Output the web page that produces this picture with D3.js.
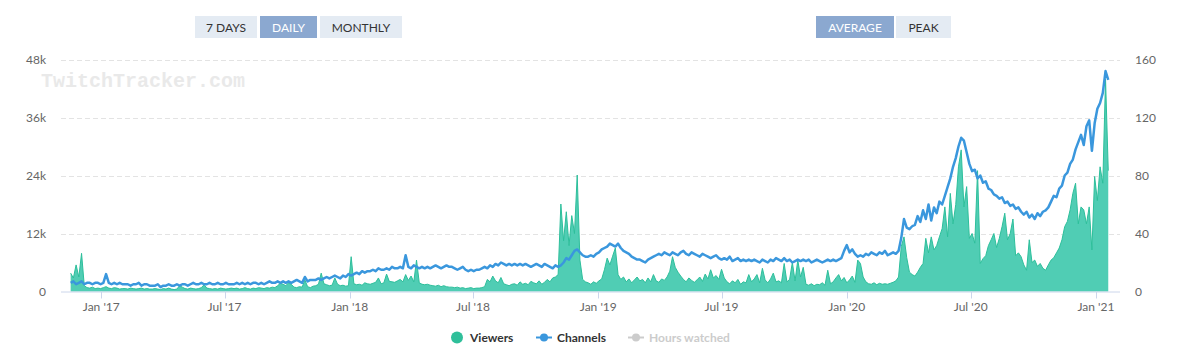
<!DOCTYPE html>
<html><head><meta charset="utf-8">
<script src="https://cdn.jsdelivr.net/npm/d3@7/dist/d3.min.js"></script>
<style>
body{margin:0;background:#fff;font-family:Lato,"Open Sans",sans-serif;}
svg{display:block;}
</style></head><body>
<svg id="chart" width="1179" height="356"></svg>
<script>
// sampled every 4 days from start date
const startDate = "2016-11-17";
const stepDays = 4;
// average viewers (thousands)
const viewers = [
3.8,2.8,5.5,3.0,7.9,1.2,0.8,0.7,0.9,0.6,
0.7,0.6,0.8,1.0,0.7,0.6,0.8,0.7,0.5,0.6,
0.6,0.5,0.7,0.6,0.5,0.6,0.7,0.5,0.6,0.5,
0.5,0.6,0.5,0.4,0.6,0.5,0.7,0.5,0.4,0.5,
1.2,0.9,0.6,0.5,0.7,0.6,0.5,0.6,0.8,1.4,
0.7,0.6,0.5,0.6,0.5,0.7,0.6,0.5,0.6,0.7,
0.6,0.7,0.5,0.6,0.8,0.6,0.5,0.7,0.6,0.8,
0.7,0.6,0.8,0.7,0.9,0.8,1.2,1.7,1.5,1.2,
1.8,1.5,0.9,0.8,1.0,0.9,2.4,1.0,0.8,1.1,
1.2,1.5,3.8,1.6,1.4,1.2,1.3,2.8,1.5,1.2,
1.3,1.1,1.2,7.2,1.6,1.4,1.5,1.3,1.8,1.6,
1.5,1.7,1.9,2.8,1.6,1.8,3.6,2.1,2.0,1.9,
2.2,2.5,2.0,3.5,2.3,3.2,2.0,6.5,1.8,1.5,
1.4,1.5,1.3,1.2,1.1,1.3,1.0,1.2,1.0,0.9,
0.9,0.8,0.9,0.7,0.8,0.6,0.7,0.8,0.6,0.7,
0.7,0.8,1.0,2.5,2.0,3.2,2.2,1.8,2.9,1.6,
1.4,1.2,1.5,1.6,1.3,2.0,1.5,1.7,1.4,2.1,
1.8,1.6,2.2,1.5,1.9,2.5,2.0,2.8,3.0,3.5,
18.1,10.5,16.5,9.5,15.7,12,24.1,6.5,2.5,2.0,
1.8,1.5,2.0,1.7,2.2,2.6,4.5,6.9,5.5,7.3,
9.0,3.5,2.5,3.0,2.0,2.6,1.8,2.4,3.0,2.2,
2.5,1.8,2.8,2.0,3.5,2.2,1.9,2.6,2.3,3.0,
4.2,7.2,5.0,4.0,3.2,2.5,2.0,2.8,2.3,1.9,
2.4,3.0,2.1,3.6,2.6,4.5,2.8,3.3,2.5,4.6,
2.8,2.0,1.6,2.2,1.8,2.5,1.5,2.0,1.8,3.5,
2.0,2.6,3.5,1.8,4.8,2.4,1.8,2.6,3.8,2.0,
2.2,1.8,5.8,2.0,2.5,6.0,2.2,6.5,3.0,5.0,
1.5,1.3,1.6,1.2,1.5,1.4,1.8,1.3,4.4,1.6,
2.0,2.8,3.5,2.2,2.9,1.8,2.4,3.2,1.9,6.5,
5.8,3.0,2.0,1.6,1.5,1.8,1.4,1.7,1.5,1.6,
1.5,1.7,1.9,2.2,3.0,9.3,11.3,7.0,4.0,3.5,
3.2,4.0,5.0,5.8,11.0,8.0,11.3,8.6,9.5,11.3,
13,17.5,11.3,20.3,14,18,25.8,29.3,17.5,21.7,
11,12,10,25,5.8,6.8,7.4,9.5,10.7,12,
9.1,11,13.4,16.2,10.7,12,15,7.4,8,7.2,
5.5,4.4,10.7,6.0,6.5,5.2,5.8,4.8,4.4,5.5,
6.5,7.0,8.0,9.0,10.7,13.4,14.5,16.9,20.3,22.4,
14,17.5,16.9,14,17.5,8.6,23.8,18.8,25.8,22.4,
44,25
];
// channels
const channels = [
6,7,5,6,7,5,6,6,5,6,
6,5,6,12,6,5,6,5,6,5,
5,5,4,5,5,6,4,5,5,4,
4,4,5,3,4,4,5,4,4,5,
4,5,5,4,5,6,5,5,6,5,
5,6,5,5,6,5,5,6,5,5,
5,6,5,6,5,6,5,6,6,5,
6,5,6,7,6,6,7,6,7,6,
7,6,7,8,7,6,10,7,8,8,
8,9,8,9,10,9,10,11,10,9,
11,10,12,11,12,13,12,14,13,14,
14,15,14,16,15,15,16,15,17,16,
16,17,16,25,17,16,18,17,16,17,
16,17,16,17,18,17,16,17,18,17,
17,16,15,16,17,15,14,15,14,15,
15,16,17,16,18,17,19,18,20,19,
18,19,18,19,18,19,18,19,18,17,
18,19,18,17,19,18,17,16,18,17,
18,20,23,22,25,28,29,27,25,24,
24,25,24,26,27,29,30,31,33,32,
31,33,30,28,27,26,24,23,22,22,
21,20,22,23,24,25,26,25,27,26,
25,27,26,25,27,28,26,25,27,26,
25,24,26,25,24,23,24,25,23,22,
23,22,24,21,22,23,21,22,21,22,
21,22,21,20,22,21,20,22,21,23,
22,21,23,21,22,20,21,22,21,22,
21,22,20,21,22,21,20,21,22,21,
22,21,22,23,28,32,27,29,26,24,
25,24,26,25,27,26,25,27,26,28,
25,26,27,26,28,37,50,44,43,45,
46,52,48,56,50,60,49,58,54,62,
60,66,72,78,86,92,100,106,104,96,
88,83,84,78,80,75,76,71,70,67,
66,64,65,61,62,59,60,57,58,55,
53,55,51,53,50,54,52,55,56,58,
62,66,65,71,73,80,82,88,91,98,
103,108,101,114,118,97,116,126,130,137,
152,146
];
const leftTicks = [0,12,24,36,48];
const leftTickLabels = ["0","12k","24k","36k","48k"];
const rightTicks = [0,40,80,120,160];
const rightTickLabels = ["0","40","80","120","160"];
const xTickDates = ["2017-01-01","2017-07-01","2018-01-01","2018-07-01","2019-01-01","2019-07-01","2020-01-01","2020-07-01","2021-01-01"];
const xTickLabels = ["Jan '17","Jul '17","Jan '18","Jul '18","Jan '19","Jul '19","Jan '20","Jul '20","Jan '21"];
const rangeButtons = ["7 DAYS","DAILY","MONTHLY"];
const modeButtons = ["AVERAGE","PEAK"];
const legendItems = ["Viewers","Channels","Hours watched"];

const parse = d3.utcParse("%Y-%m-%d");
const t0 = parse(startDate);
const dates = viewers.map((_, i) => d3.utcDay.offset(t0, i * stepDays));
const data = dates.map((d, i) => ({date: d, v: viewers[i], c: channels[i]}));

const svg = d3.select("#chart");
const plotL = 61, plotR = 1120, plotT = 59.5, plotB = 291.5;

const x = d3.scaleUtc().domain([parse("2017-01-01"), parse("2021-01-01")]).range([101.3, 1096]);
const yL = d3.scaleLinear().domain([0, 48]).range([plotB, plotT]);
const yR = d3.scaleLinear().domain([0, 160]).range([plotB, plotT]);

// buttons
function drawButtons(labels, xs, ws, active) {
  labels.forEach((lab, i) => {
    const g = svg.append("g");
    g.append("rect").attr("x", xs[i]).attr("y", 16).attr("width", ws[i]).attr("height", 22)
      .attr("fill", i === active ? "#8ba8d0" : "#e4ebf3");
    g.append("text").attr("x", xs[i] + ws[i] / 2).attr("y", 31.5).attr("text-anchor", "middle")
      .attr("font-size", 12).attr("fill", i === active ? "#ffffff" : "#333333").text(lab);
  });
}
drawButtons(rangeButtons, [195, 260, 320], [62, 57, 82], 1);
drawButtons(modeButtons, [816, 896], [78, 55], 0);

// grid
svg.append("g").selectAll("line").data(leftTicks.filter(d => d > 0)).join("line")
  .attr("x1", plotL).attr("x2", plotR)
  .attr("y1", d => Math.round(yL(d)) + 0.5).attr("y2", d => Math.round(yL(d)) + 0.5)
  .attr("stroke", "#e3e3e3").attr("stroke-dasharray", "5,3");

// watermark
svg.append("text").attr("x", 41).attr("y", 87).attr("font-family", "'Liberation Mono','DejaVu Sans Mono',monospace")
  .attr("font-weight", "bold").attr("font-size", 20).attr("fill", "#e9e9e9").text("TwitchTracker.com");

// left axis labels
svg.append("g").selectAll("text").data(leftTicks).join("text")
  .attr("x", 46).attr("y", d => yL(d) + 4).attr("text-anchor", "end")
  .attr("font-size", 12).attr("fill", "#666666").text((d, i) => leftTickLabels[i]);
// right axis labels
svg.append("g").selectAll("text").data(rightTicks).join("text")
  .attr("x", 1135).attr("y", d => yR(d) + 4).attr("text-anchor", "start")
  .attr("font-size", 12).attr("fill", "#666666").text((d, i) => rightTickLabels[i]);

// area
const area = d3.area().x(d => x(d.date)).y0(yL(0)).y1(d => yL(d.v));
svg.append("path").datum(data).attr("d", area).attr("fill", "#50cdb4");
const vline = d3.line().x(d => x(d.date)).y(d => yL(d.v));
svg.append("path").datum(data).attr("d", vline).attr("fill", "none").attr("stroke", "#2dbf9b").attr("stroke-width", 1);

// x axis
svg.append("line").attr("x1", plotL).attr("x2", plotR).attr("y1", plotB + 0.5).attr("y2", plotB + 0.5).attr("stroke", "#ccd6eb");
const xt = xTickDates.map(parse);
svg.append("g").selectAll("line").data(xt).join("line")
  .attr("x1", d => Math.round(x(d)) + 0.5).attr("x2", d => Math.round(x(d)) + 0.5)
  .attr("y1", plotB).attr("y2", plotB + 7).attr("stroke", "#ccd6eb");
svg.append("g").selectAll("text").data(xt).join("text")
  .attr("x", d => x(d)).attr("y", 311).attr("text-anchor", "middle")
  .attr("font-size", 12).attr("fill", "#666666").text((d, i) => xTickLabels[i]);

// channels line
const cline = d3.line().x(d => x(d.date)).y(d => yR(d.c));
svg.append("path").datum(data).attr("d", cline).attr("fill", "none").attr("stroke", "#3a97dd")
  .attr("stroke-width", 2.5).attr("stroke-linejoin", "round");

// legend
const lg = svg.append("g").attr("font-size", 12).attr("font-weight", "bold");
lg.append("circle").attr("cx", 457).attr("cy", 337.5).attr("r", 6).attr("fill", "#2fbf9a");
lg.append("text").attr("x", 470).attr("y", 342).attr("fill", "#333333").text(legendItems[0]);
lg.append("line").attr("x1", 536).attr("x2", 552).attr("y1", 337.5).attr("y2", 337.5).attr("stroke", "#3a97dd").attr("stroke-width", 2);
lg.append("circle").attr("cx", 544).attr("cy", 337.5).attr("r", 4).attr("fill", "#3a97dd");
lg.append("text").attr("x", 557).attr("y", 342).attr("fill", "#333333").text(legendItems[1]);
lg.append("line").attr("x1", 628).attr("x2", 644).attr("y1", 337.5).attr("y2", 337.5).attr("stroke", "#cccccc").attr("stroke-width", 2);
lg.append("circle").attr("cx", 636).attr("cy", 337.5).attr("r", 4).attr("fill", "#cccccc");
lg.append("text").attr("x", 649).attr("y", 342).attr("fill", "#cccccc").text(legendItems[2]);
</script>
</body></html>
